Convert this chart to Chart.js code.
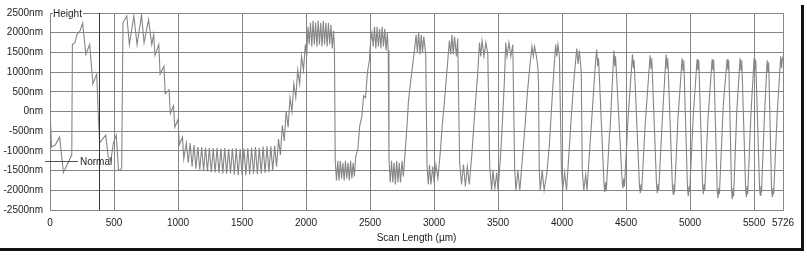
<!DOCTYPE html>
<html>
<head>
<meta charset="utf-8">
<script src="https://cdn.jsdelivr.net/npm/chart.js@4/dist/chart.umd.min.js"></script>
<style>
  body { margin: 0; background: #fff; }
  canvas { display: block; }
</style>
</head>
<body>
<canvas id="myChart" width="807" height="256"></canvas>
<script>
// scan profile, [scan length in um, height in nm]
const profileStart = [
  [0, 50], [12, -900], [40, -850], [75, -650], [105, -1550], [170, -1100], [175, 1700], [195, 1750],
  [210, 1950], [235, 2050], [255, 2250], [280, 1450], [310, 1700], [335, 700], [365, 950], [378, -150],
  [388, -800], [410, -700], [435, -600], [455, -1150], [475, -1250], [495, -800], [518, -600], [535, -1500],
  [560, -1450], [570, 2250], [600, 2425], [620, 1700], [655, 2425], [680, 1700], [715, 2450], [735, 1750],
  [770, 2330], [795, 1700], [810, 1950], [820, 1425], [850, 1700], [860, 950], [890, 1150], [900, 450],
  [930, 550], [940, -50], [965, 150], [975, -400], [1000, -200], [1010, -850], [1035, -650], [1045, -1200],
  [1065, -800]
];

const profileTrough = [
  [1080, -1300], [1095, -800], [1110, -1400], [1125, -850], [1140, -1450], [1155, -900], [1170, -1480],
  [1185, -900], [1200, -1500], [1215, -920], [1230, -1520], [1245, -920], [1260, -1540], [1275, -930],
  [1290, -1550], [1305, -920], [1320, -1560], [1335, -940], [1350, -1570], [1365, -930], [1380, -1580],
  [1395, -950], [1410, -1570], [1425, -940], [1440, -1600], [1455, -930], [1470, -1620], [1485, -950],
  [1500, -1600], [1515, -940], [1530, -1620], [1545, -930], [1560, -1600], [1575, -920], [1590, -1580],
  [1605, -900], [1620, -1590], [1635, -920], [1650, -1570], [1665, -890], [1680, -1560], [1695, -880],
  [1710, -1540], [1725, -880], [1740, -1500], [1755, -870]
];

const profileRise = [
  [1770, -1400], [1785, -700], [1800, -1100], [1815, -350], [1830, -750], [1845, 0], [1860, -400],
  [1875, 350], [1890, 0], [1905, 700], [1920, 350], [1935, 1050], [1950, 700], [1965, 1400], [1980, 1050],
  [1995, 1700], [2005, 1400], [2015, 2150]
];

const profilePlateaus = [
  [2025, 1700], [2035, 2250], [2045, 1650], [2055, 2300], [2065, 1700], [2075, 2250], [2085, 1650],
  [2095, 2300], [2105, 1700], [2115, 2250], [2125, 1650], [2135, 2300], [2145, 1700], [2155, 2250],
  [2165, 1650], [2175, 2250], [2185, 1700], [2195, 2200], [2205, 1600], [2215, 2050], [2222, 1600],
  [2228, -1250], [2238, -1750], [2248, -1250], [2258, -1750], [2268, -1250], [2278, -1700], [2288, -1300],
  [2298, -1750], [2308, -1250], [2318, -1700], [2328, -1300], [2338, -1750], [2348, -1250], [2358, -1700],
  [2368, -1300], [2378, -1650], [2388, -1150], [2405, -950], [2420, -350], [2435, -150], [2450, 400],
  [2465, 350], [2480, 1000], [2495, 1300], [2505, 1800], [2515, 2000], [2525, 1650], [2535, 2150],
  [2545, 1600], [2555, 2150], [2565, 1650], [2575, 2100], [2585, 1600], [2595, 2150], [2605, 1650],
  [2615, 2100], [2625, 1550], [2635, 2000], [2642, 1550], [2648, -1200], [2658, -1800], [2668, -1250],
  [2678, -1800], [2688, -1300], [2698, -1850], [2708, -1250], [2718, -1800], [2728, -1300], [2738, -1800],
  [2750, -1250], [2760, -1650], [2775, -1000], [2790, -300], [2800, 250], [2815, 700], [2830, 1100],
  [2845, 1500], [2860, 1950]
];

const profileMid = [
  [2870, 1500], [2880, 2000], [2890, 1450], [2900, 1950], [2910, 1500], [2920, 1900], [2935, 1450],
  [2945, -1350], [2955, -1850], [2965, -1350], [2975, -1850], [2990, -1400], [3000, -1800], [3015, -1350],
  [3030, -1700], [3050, -1000], [3065, -300], [3080, 200], [3090, 600], [3105, 1200], [3120, 1800],
  [3130, 1450], [3140, 1950], [3150, 1450], [3160, 1900], [3175, 1400], [3185, 1850], [3200, -1300],
  [3215, -1850], [3230, -1350], [3245, -1900], [3260, -1400], [3275, -1850], [3295, -1100], [3310, -400],
  [3325, 300], [3340, 900], [3355, 1750], [3365, 1400], [3375, 1800], [3390, 1400], [3405, 1750],
  [3420, 1450], [3435, -1400], [3450, -2000], [3460, -1500], [3475, -1950], [3490, -1550], [3500, -2000],
  [3520, -1100], [3535, -200], [3550, 800], [3560, 1750], [3570, 1400], [3585, 1750], [3600, 1400],
  [3615, 1700], [3630, -1450], [3640, -2000], [3655, -1500], [3670, -2000], [3690, -1200], [3710, -400],
  [3730, 500], [3750, 1200], [3765, 1650], [3775, 1400], [3785, 1650], [3800, 1400], [3812, 1100],
  [3816, 700], [3822, -1500], [3830, -2000], [3845, -1500], [3860, -2000], [3880, -1600], [3900, -900],
  [3920, 200], [3935, 1000], [3950, 1700], [3958, 1400], [3968, 1700], [3980, 1350], [3995, -1500],
  [4005, -2000], [4020, -1550], [4035, -2000], [4055, -1000], [4075, 0], [4095, 900], [4115, 1600],
  [4125, 1200], [4135, 1550], [4145, 1200], [4150, 1000], [4158, -1500], [4170, -2000], [4185, -1600],
  [4195, -2000], [4215, -1000], [4240, 200], [4260, 1200]
];

const profileFringes = [
  [4271, 1575], [4278, 1150], [4285, 1350], [4328, -1850], [4334, -2050], [4340, -1800], [4346, -2000],
  [4370, -600], [4375, -450], [4405, 1550], [4412, 1150], [4418, 1400], [4470, -1800], [4476, -1950],
  [4482, -1700], [4488, -1900], [4515, -200], [4550, 1450], [4557, 1100], [4563, 1300], [4605, -1900],
  [4611, -2075], [4617, -1850], [4622, -2000], [4650, -300], [4688, 1425], [4695, 1100], [4701, 1350],
  [4738, -1850], [4744, -2075], [4750, -1850], [4755, -2000], [4785, -100], [4813, 1450], [4820, 1100],
  [4826, 1350], [4862, -1900], [4868, -2100], [4874, -1850], [4879, -2050], [4905, -200], [4938, 1350],
  [4945, 1050], [4951, 1300], [4980, -1950], [4986, -2150], [4992, -1900], [4997, -2050], [5025, -100],
  [5055, 1325], [5062, 1050], [5068, 1300], [5098, -1900], [5104, -2100], [5110, -1850], [5115, -2000],
  [5140, -200], [5172, 1325], [5179, 1050], [5185, 1300], [5212, -2000], [5218, -2200], [5224, -1950],
  [5229, -2100], [5260, 200], [5289, 1325], [5296, 1050], [5302, 1300], [5324, -2000], [5330, -2225],
  [5336, -1950], [5340, -2150], [5365, 0], [5391, 1350], [5398, 1050], [5404, 1300], [5434, -1950],
  [5440, -2175], [5446, -1900], [5450, -2100], [5475, -100], [5500, 1350], [5507, 1050], [5513, 1300],
  [5543, -1950], [5548, -2125], [5554, -1900], [5558, -2050], [5580, -200], [5602, 1300], [5609, 1000],
  [5614, 1250], [5637, -2000], [5643, -2175], [5649, -1950], [5653, -2100], [5680, -100], [5708, 1400],
  [5715, 1100], [5721, 1350], [5726, 1300]
];

const xTicks = [0, 500, 1000, 1500, 2000, 2500, 3000, 3500, 4000, 4500, 5000, 5500, 5726];
const yTicks = [-2500, -2000, -1500, -1000, -500, 0, 500, 1000, 1500, 2000, 2500];
const cursorAt = 383;      // um, position of the vertical marker
const normalLevel = -1250; // nm

const profile = [].concat(profileStart, profileTrough, profileRise, profilePlateaus, profileMid, profileFringes)
  .map(p => ({ x: p[0], y: p[1] }));

const font = { family: 'Liberation Sans, Arial, sans-serif', size: 10 };
const gridColor = '#858585';

// frame, cursor and the two labels of the profiler window
const decorations = {
  id: 'decorations',
  afterDatasetsDraw(chart) {
    const { ctx, chartArea: a, scales } = chart;
    ctx.save();
    const cx = Math.round(scales.x.getPixelForValue(cursorAt)) + 0.5;
    ctx.strokeStyle = '#333';
    ctx.lineWidth = 1;
    ctx.beginPath();
    ctx.moveTo(cx, a.top);
    ctx.lineTo(cx, a.bottom);
    ctx.stroke();

    const ny = Math.round(scales.y.getPixelForValue(normalLevel)) + 0.5;
    ctx.strokeStyle = '#555';
    ctx.beginPath();
    ctx.moveTo(a.left - 5, ny);
    ctx.lineTo(a.left + 28, ny);
    ctx.stroke();

    ctx.font = '10px Liberation Sans, Arial, sans-serif';
    ctx.textBaseline = 'middle';
    ctx.fillStyle = '#fff';
    ctx.fillRect(a.left + 3, a.top - 5, 30, 10);
    ctx.fillStyle = '#222';
    ctx.fillText('Height', a.left + 3, a.top + 1);
    ctx.fillText('Normal', a.left + 30, ny + 1);

    ctx.fillStyle = '#111';
    ctx.fillRect(0, 248, 804, 3);
    ctx.fillRect(801, 5, 3, 246);
    ctx.restore();
  }
};

new Chart(document.getElementById('myChart').getContext('2d'), {
  type: 'scatter',
  data: {
    datasets: [{
      data: profile,
      showLine: true,
      borderColor: '#868686',
      borderWidth: 1.1,
      pointRadius: 0,
      tension: 0
    }]
  },
  options: {
    responsive: false,
    animation: false,
    devicePixelRatio: 1,
    layout: { padding: { top: 10, right: 24, left: 0, bottom: 0 } },
    plugins: { legend: { display: false }, tooltip: { enabled: false } },
    scales: {
      x: {
        type: 'linear',
        min: 0,
        max: 5726,
        afterBuildTicks: s => { s.ticks = xTicks.map(v => ({ value: v })); },
        afterFit: s => { s.height = 46; },
        grid: { color: gridColor, drawTicks: false },
        border: { color: gridColor },
        ticks: { autoSkip: false, maxRotation: 0, padding: 7, color: '#222', font: font, callback: v => String(v) },
        title: { display: true, text: 'Scan Length (µm)', color: '#222', font: font, padding: { top: 0, bottom: 12 } }
      },
      y: {
        min: -2500,
        max: 2500,
        afterBuildTicks: s => { s.ticks = yTicks.map(v => ({ value: v })); },
        afterFit: s => { s.width = 50; },
        grid: { color: gridColor, drawTicks: false },
        border: { color: gridColor },
        ticks: { padding: 7, color: '#222', font: font, callback: v => v + 'nm' }
      }
    }
  },
  plugins: [decorations]
});
</script>
</body>
</html>
